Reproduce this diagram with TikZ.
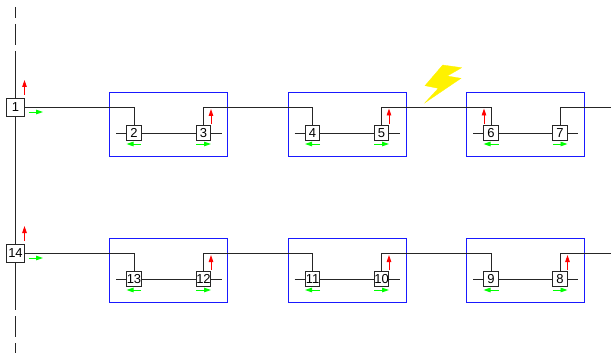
\documentclass[tikz,border=0pt]{standalone}
\usepackage{fontspec}
\setmainfont{Liberation Sans}
\usetikzlibrary{arrows.meta}
\tikzset{
  bigbox/.style={draw=black!85,fill=white,line width=1.1pt,minimum size=18pt,inner sep=0pt,font=\fontsize{13}{13}\selectfont},
  smallbox/.style={draw=black!85,fill=white,line width=1.1pt,minimum size=14.5pt,inner sep=0pt,font=\fontsize{13}{13}\selectfont},
  wire/.style={draw=black!85,line width=0.9pt},
  frame/.style={draw=blue!90!white,line width=0.9pt},
  redarrow/.style={draw=red,line width=0.9pt,-{Triangle[length=7pt,width=4.5pt]}},
  greenarrow/.style={draw=green,line width=0.9pt,-{Triangle[length=7pt,width=4.5pt]}},
  bolt/.style={fill=yellow,draw=yellow,line width=0.3pt}
}
\begin{document}
\begin{tikzpicture}[x=1pt,y=-1pt]
\useasboundingbox (0,0) rectangle (611,353);
% frames
\foreach \x/\k in {109.5/a,288/b,466.5/c}{
  \draw[frame] (\x,92) rectangle ++(118,64);
  \draw[frame] (\x,238) rectangle ++(118,64);
}
% bolt
\fill[bolt] (442.7,65) -- (461.7,67.7) -- (447.3,76) -- (461,78.3) -- (425,102.7) -- (438.3,88.3) -- (425,85.7) -- cycle;
% big nodes
\node[bigbox] (n1) at (15.5,107.5) {1};
\node[bigbox] (n14) at (15.5,253.5) {14};
% small nodes
\foreach \i/\x/\y in {2/134/133,3/203.5/133,4/312.5/133,5/381.5/133,6/491/133,7/560/133,
                      13/134/279,12/203.5/279,11/312.5/279,10/381.5/279,9/491/279,8/560/279}{
  \node[smallbox] (n\i) at (\x,\y) {\i};
  \coordinate (l\i) at (\x-18,\y);
  \coordinate (r\i) at (\x+18,\y);
  \draw[wire] (l\i) -- (n\i) -- (r\i);
}
% wire coordinates
\coordinate (c34) at (258,107.5);
\coordinate (c56) at (436,107.5);
\coordinate (c7e) at (611,107.5);
\coordinate (c1211) at (258,253.5);
\coordinate (c109) at (436,253.5);
\coordinate (c8e) at (611,253.5);
% horizontal links
\draw[wire] (n2) -- (n3);
\draw[wire] (n4) -- (n5);
\draw[wire] (n6) -- (n7);
\draw[wire] (n13) -- (n12);
\draw[wire] (n11) -- (n10);
\draw[wire] (n9) -- (n8);
% top wiring
\draw[wire] (n1.east) -| (n2.north);
\draw[wire] (n3.north) |- (c34) -| (n4.north);
\draw[wire] (n5.north) |- (c56) -| (n6.north);
\draw[wire] (n7.north) |- (c7e);
% bottom wiring
\draw[wire] (n14.east) -| (n13.north);
\draw[wire] (n12.north) |- (c1211) -| (n11.north);
\draw[wire] (n10.north) |- (c109) -| (n9.north);
\draw[wire] (n8.north) |- (c8e);
% bus
\coordinate (t1) at (15.5,7);
\coordinate (t2) at (15.5,18);
\coordinate (t3) at (15.5,24);
\coordinate (t4) at (15.5,45);
\coordinate (t5) at (15.5,51);
\coordinate (b1) at (15.5,310);
\coordinate (b2) at (15.5,316);
\coordinate (b3) at (15.5,337);
\coordinate (b4) at (15.5,343);
\coordinate (b5) at (15.5,353);
\draw[wire] (t1) -- (t2);
\draw[wire] (t3) -- (t4);
\draw[wire] (t5) -- (n1);
\draw[wire] (n1) -- (n14);
\draw[wire] (n14) -- (b1);
\draw[wire] (b2) -- (b3);
\draw[wire] (b4) -- (b5);
% red arrows
\foreach \n/\x/\a/\b in {ra/24.5/95/80,rb/24.5/241/226,rc/211/124/109,rd/389/124/108.5,re/484/124/108.5,
                        rf/211/270/255,rg/389/270/255,rh/567.5/270/255}{
  \coordinate (\n s) at (\x,\a);
  \coordinate (\n e) at (\x,\b);
  \draw[redarrow] (\n s) -- (\n e);
}
% green arrows
\foreach \n/\a/\b/\y in {ga/28.5/43/112,gb/28.5/43/258,
   g2/141/126.5/144,g3/196/211/144,g4/320/305/144,g5/374/389/144,g6/498.5/483.5/144,g7/552.5/567.5/144,
   g13/141/126.5/290,g12/196/211/290,g11/320/305/290,g10/374/389/290,g9/498.5/483.5/290,g8/552.5/567.5/290}{
  \coordinate (\n s) at (\a,\y);
  \coordinate (\n e) at (\b,\y);
  \draw[greenarrow] (\n s) -- (\n e);
}
\end{tikzpicture}
\end{document}
